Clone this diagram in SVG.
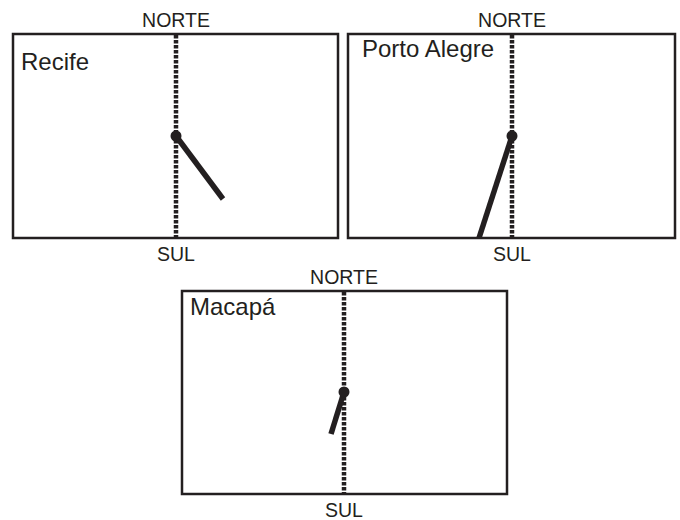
<svg xmlns="http://www.w3.org/2000/svg" width="680" height="520" viewBox="0 0 680 520">
  <style>
    .frame { fill: #fff; stroke: #231f20; stroke-width: 2.5; }
    .axis { stroke: #231f20; stroke-width: 4.5; stroke-dasharray: 3.4 1.6; }
    .stick { stroke: #231f20; stroke-width: 5.5; stroke-linecap: butt; }
    .pivot { fill: #231f20; }
    .dir { font-family: "Liberation Sans", Arial, sans-serif; font-size: 19.5px; fill: #231f20; text-anchor: middle; }
    .city { font-family: "Liberation Sans", Arial, sans-serif; font-size: 24px; fill: #231f20; }
  </style>
  <rect width="680" height="520" fill="#fff"/>

  <!-- Recife -->
  <g id="recife">
    <rect class="frame" x="13" y="34" width="325" height="204"/>
    <line class="axis" x1="176" y1="35" x2="176" y2="237"/>
    <line class="stick" x1="176" y1="136" x2="223" y2="199"/>
    <circle class="pivot" cx="176" cy="136" r="5.5"/>
    <text class="dir" x="176" y="27">NORTE</text>
    <text class="dir" x="176" y="261">SUL</text>
    <text class="city" x="21" y="70">Recife</text>
  </g>

  <!-- Porto Alegre -->
  <g id="porto-alegre">
    <rect class="frame" x="348" y="34" width="327" height="204"/>
    <line class="axis" x1="512" y1="35" x2="512" y2="237"/>
    <line class="stick" x1="512" y1="136" x2="479" y2="238"/>
    <circle class="pivot" cx="512" cy="136" r="5.5"/>
    <text class="dir" x="512" y="27">NORTE</text>
    <text class="dir" x="512" y="261">SUL</text>
    <text class="city" x="362" y="57">Porto Alegre</text>
  </g>

  <!-- Macapá -->
  <g id="macapa">
    <rect class="frame" x="182" y="291" width="325" height="203"/>
    <line class="axis" x1="344" y1="292" x2="344" y2="493"/>
    <line class="stick" x1="344" y1="392" x2="331" y2="434"/>
    <circle class="pivot" cx="344" cy="392" r="5.5"/>
    <text class="dir" x="344" y="284">NORTE</text>
    <text class="dir" x="344" y="517">SUL</text>
    <text class="city" x="190" y="315">Macapá</text>
  </g>
</svg>
